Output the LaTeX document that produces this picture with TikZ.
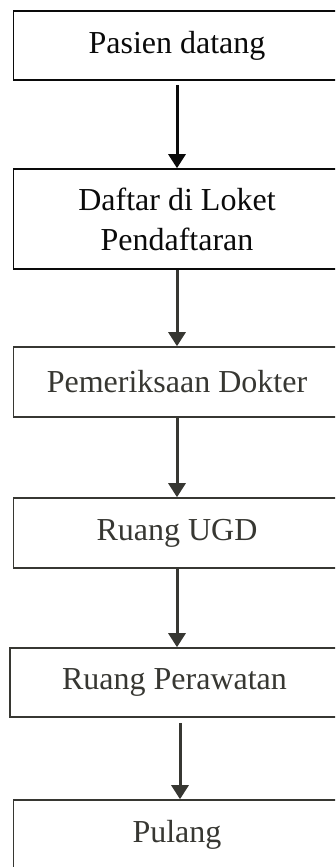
\documentclass[tikz,border=0pt]{standalone}
\usepackage{fontspec}
\setmainfont{Liberation Serif}
\usetikzlibrary{arrows.meta}
\definecolor{inkA}{RGB}{10,10,10}
\definecolor{inkB}{RGB}{55,55,50}
\begin{document}
\begin{tikzpicture}[x=1pt,y=-1pt,
  box/.style={draw=#1,text=#1,line width=1.6pt,inner sep=0pt,minimum width=327pt,align=center,font=\fontsize{32}{40}\selectfont},
  box/.default=inkA,
  flow/.style={draw=#1,fill=#1,line width=3pt,-{Triangle[length=14pt,width=17pt]}},
  flow/.default=inkA]
\useasboundingbox (0,0) rectangle (335,867);
\clip (0,0) rectangle (335,867);
\node[box,minimum height=69pt] (b1) at (177,45.5) {Pasien datang};
\node[box,minimum height=100pt] (b2) at (177,219) {Daftar di Loket\\Pendaftaran};
\node[box=inkB,minimum height=70pt] (b3) at (177,382) {Pemeriksaan Dokter};
\node[box=inkB,minimum height=70pt] (b4) at (177,533) {Ruang UGD};
\node[box=inkB,minimum height=69pt,minimum width=329pt] (b5) at (174.5,682.5) {Ruang Perawatan};
\node[box=inkB,minimum height=70pt] (b6) at (177,835) {Pulang};
\draw[flow] ([yshift=-4pt]b1.south) -- (b2.north);
\draw[flow=inkB] (b2.south) -- (b3.north);
\draw[flow=inkB] (b3.south) -- (b4.north);
\draw[flow=inkB] (b4.south) -- ([xshift=2.5pt]b5.north);
\draw[flow=inkB] ([xshift=5.5pt,yshift=-5pt]b5.south) -- ([xshift=3pt]b6.north);
\end{tikzpicture}
\end{document}
